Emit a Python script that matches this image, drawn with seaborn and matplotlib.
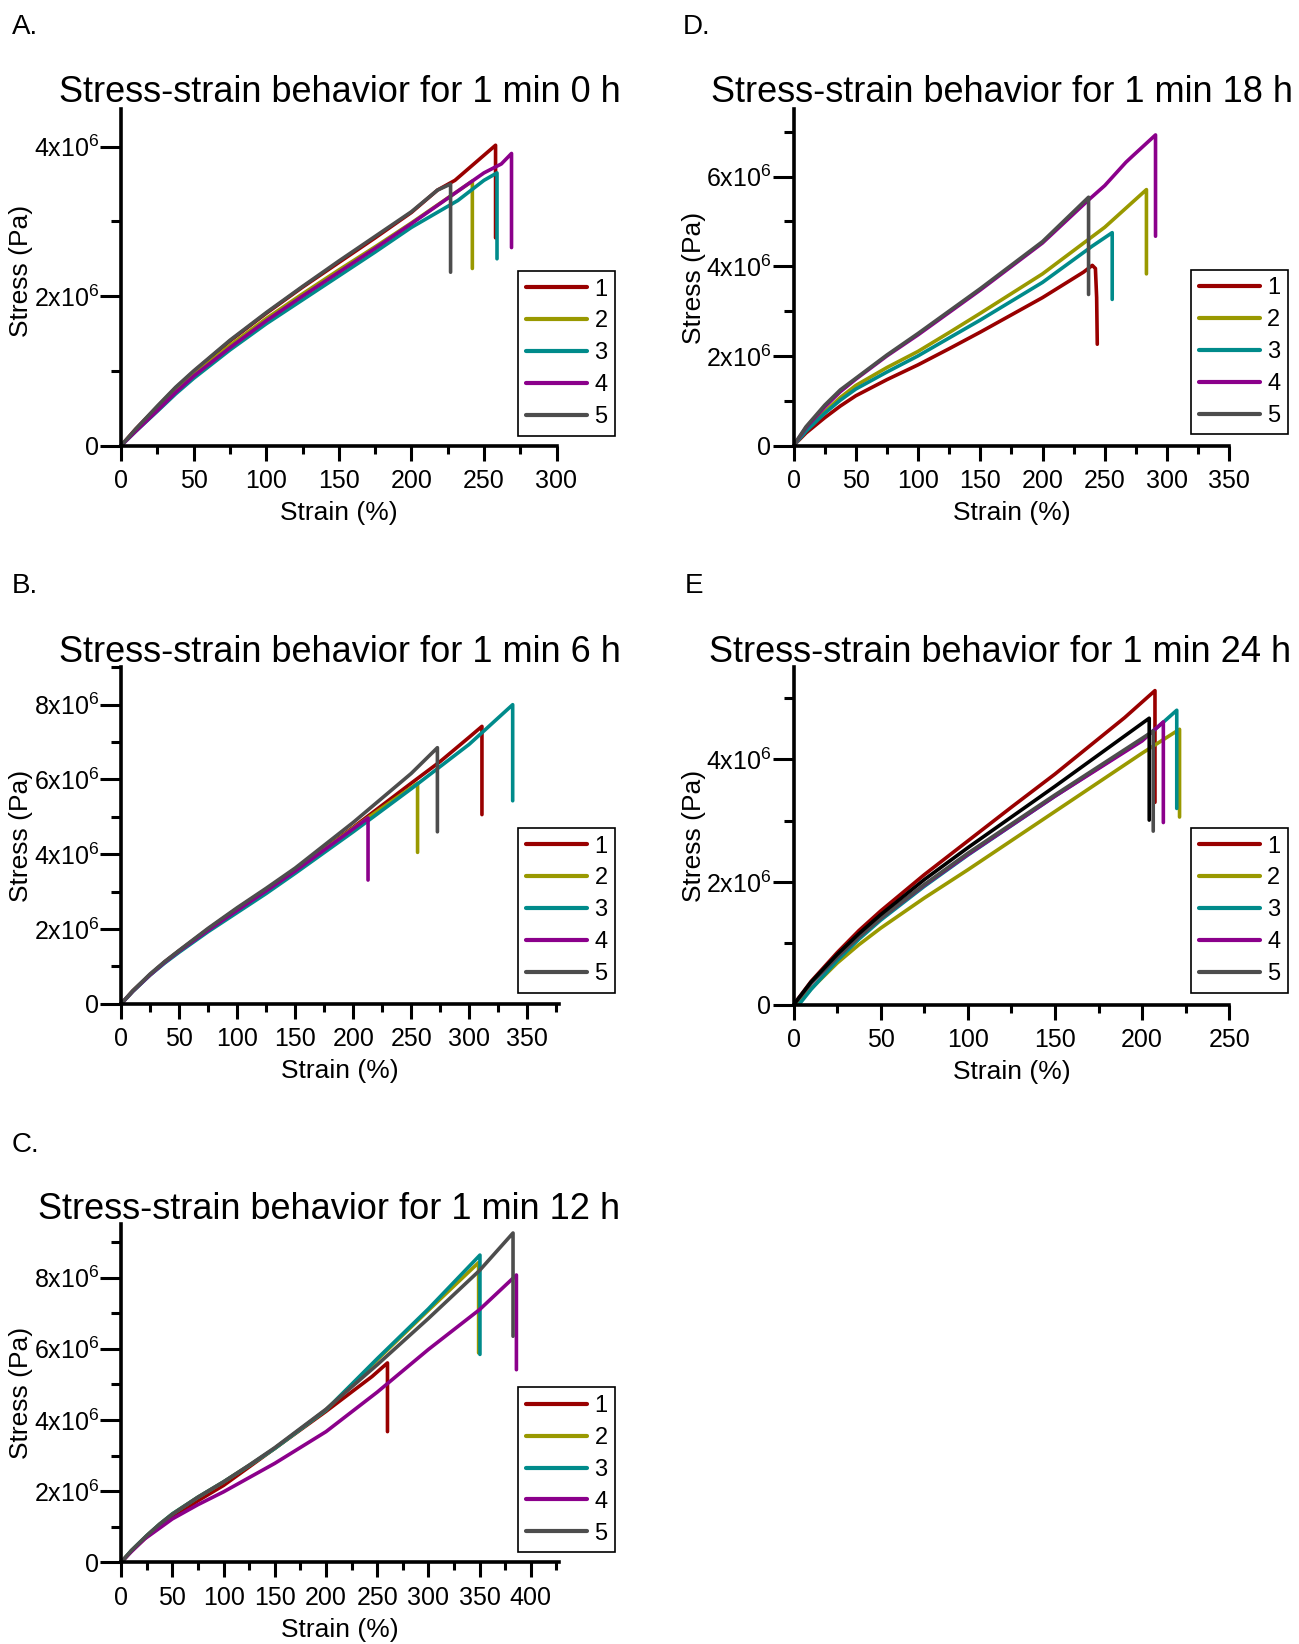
"""
Stress-strain curves for the 1 min samples at 0, 6, 12, 18 and 24 h.
Five panels (A-E), each with five specimens; the final point of each
specimen is the failure drop.
"""
import matplotlib
matplotlib.use("Agg")
import matplotlib.pyplot as plt
import pandas as pd
import seaborn as sns
from matplotlib.ticker import MultipleLocator

SAMPLES = ["1", "2", "3", "4", "5"]
COLORS = ["#990000", "#999900", "#008b8b", "#8b008b", "#4d4d4d"]

# strain in %, stress in 1e6 Pa (last point of each curve = drop after failure)
# A. 1 min 0 h
a_strain = [
    [0, 10, 25, 37.5, 50, 75, 100, 125, 150, 175, 200, 218, 230, 258, 258],
    [0, 10, 25, 37.5, 50, 75, 100, 125, 150, 175, 200, 242, 242],
    [0, 10, 25, 37.5, 50, 75, 100, 125, 150, 175, 200, 232, 250, 259, 259],
    [0, 10, 25, 37.5, 50, 75, 100, 125, 150, 175, 200, 250, 262, 269, 269],
    [0, 10, 25, 37.5, 50, 75, 100, 125, 150, 175, 200, 218, 227, 227],
]
a_stress = [
    [0, 0.22, 0.52, 0.77, 0.99, 1.40, 1.77, 2.12, 2.45, 2.78, 3.12, 3.42, 3.55, 4.02, 2.78],
    [0, 0.20, 0.49, 0.73, 0.95, 1.34, 1.70, 2.03, 2.35, 2.66, 2.98, 3.54, 2.37],
    [0, 0.19, 0.46, 0.69, 0.90, 1.28, 1.63, 1.95, 2.27, 2.59, 2.92, 3.28, 3.55, 3.65, 2.50],
    [0, 0.19, 0.47, 0.71, 0.93, 1.31, 1.67, 2.00, 2.32, 2.64, 2.97, 3.65, 3.77, 3.91, 2.65],
    [0, 0.22, 0.53, 0.78, 1.00, 1.41, 1.78, 2.13, 2.47, 2.80, 3.13, 3.42, 3.50, 2.32],
]

# B. 1 min 6 h
b_strain = [
    [0, 10, 25, 37.5, 50, 75, 100, 125, 150, 200, 250, 275, 300, 311, 311],
    [0, 10, 25, 37.5, 50, 75, 100, 125, 150, 200, 230, 255.5, 255.5],
    [0, 10, 25, 37.5, 50, 75, 100, 125, 150, 200, 250, 300, 337.5, 337.5],
    [0, 10, 25, 37.5, 50, 75, 100, 125, 150, 200, 212.8, 212.8],
    [0, 10, 25, 37.5, 50, 75, 100, 125, 150, 200, 250, 272.6, 272.6],
]
b_stress = [
    [0, 0.34, 0.78, 1.12, 1.42, 2.00, 2.55, 3.06, 3.58, 4.72, 5.90, 6.48, 7.13, 7.42, 5.06],
    [0, 0.34, 0.78, 1.11, 1.41, 1.99, 2.53, 3.04, 3.56, 4.70, 5.35, 5.90, 4.05],
    [0, 0.33, 0.77, 1.09, 1.38, 1.93, 2.44, 2.95, 3.49, 4.60, 5.75, 6.94, 8.00, 5.43],
    [0, 0.34, 0.78, 1.11, 1.41, 1.97, 2.50, 3.02, 3.55, 4.68, 4.97, 3.31],
    [0, 0.35, 0.80, 1.13, 1.43, 2.02, 2.57, 3.09, 3.63, 4.85, 6.16, 6.85, 4.60],
]

# C. 1 min 12 h
c_strain = [
    [0, 10, 25, 37.5, 50, 75, 100, 125, 150, 200, 245, 260, 260],
    [0, 10, 25, 37.5, 50, 75, 100, 125, 150, 200, 250, 300, 349, 349],
    [0, 10, 25, 37.5, 50, 75, 100, 125, 150, 200, 250, 300, 350.3, 350.3],
    [0, 10, 23, 37.5, 50, 75, 100, 150, 200, 250, 300, 350, 385.9, 385.9],
    [0, 10, 25, 37.5, 50, 75, 100, 125, 150, 200, 250, 300, 350, 382.6, 382.6],
]
c_stress = [
    [0, 0.32, 0.72, 1.01, 1.27, 1.73, 2.16, 2.68, 3.20, 4.24, 5.22, 5.60, 3.67],
    [0, 0.33, 0.75, 1.07, 1.36, 1.83, 2.26, 2.72, 3.20, 4.28, 5.69, 7.08, 8.42, 5.88],
    [0, 0.33, 0.75, 1.07, 1.36, 1.83, 2.26, 2.72, 3.20, 4.28, 5.72, 7.12, 8.63, 5.84],
    [0, 0.30, 0.66, 0.96, 1.22, 1.62, 1.98, 2.78, 3.67, 4.78, 5.98, 7.10, 8.07, 5.41],
    [0, 0.33, 0.75, 1.07, 1.35, 1.83, 2.26, 2.73, 3.22, 4.30, 5.55, 6.85, 8.20, 9.25, 6.35],
]

# D. 1 min 18 h
d_strain = [
    [0, 10, 25, 37.5, 50, 75, 100, 125, 150, 200, 233, 240, 242.5, 243.5, 244],
    [0, 10, 25, 37.5, 50, 75, 100, 125, 150, 200, 250, 283.5, 283.5],
    [0, 10, 25, 37.5, 50, 75, 100, 125, 150, 200, 240, 256, 256],
    [0, 10, 25, 37.5, 50, 75, 100, 125, 150, 200, 237, 250, 267, 272, 290.8, 290.8],
    [0, 10, 25, 37.5, 50, 75, 100, 125, 150, 200, 237, 237],
]
d_stress = [
    [0, 0.28, 0.62, 0.88, 1.11, 1.47, 1.80, 2.16, 2.53, 3.30, 3.87, 4.02, 3.95, 3.30, 2.26],
    [0, 0.34, 0.75, 1.07, 1.34, 1.74, 2.10, 2.52, 2.95, 3.83, 4.87, 5.71, 3.83],
    [0, 0.32, 0.72, 1.01, 1.26, 1.64, 2.00, 2.40, 2.80, 3.64, 4.45, 4.75, 3.26],
    [0, 0.40, 0.86, 1.20, 1.48, 2.00, 2.47, 2.97, 3.47, 4.52, 5.48, 5.80, 6.32, 6.45, 6.93, 4.67],
    [0, 0.42, 0.90, 1.24, 1.50, 2.02, 2.50, 3.00, 3.50, 4.55, 5.54, 3.37],
]

# E. 1 min 24 h (plus one extra black trace with no legend entry)
e_strain = [
    [0, 10, 25, 37.5, 50, 75, 100, 125, 150, 190, 207.4, 207.4],
    [2, 10, 25, 37.5, 50, 75, 100, 150, 200, 221.5, 221.5],
    [3, 10, 25, 37.5, 50, 75, 100, 150, 200, 210, 219.9, 219.9],
    [0, 10, 25, 37.5, 50, 75, 100, 150, 200, 212.2, 212.2],
    [0, 10, 25, 37.5, 50, 75, 100, 150, 206.4, 206.4],
]
e_stress = [
    [0, 0.38, 0.85, 1.21, 1.53, 2.12, 2.67, 3.22, 3.76, 4.68, 5.12, 3.30],
    [0, 0.26, 0.68, 0.98, 1.25, 1.74, 2.20, 3.15, 4.10, 4.49, 3.06],
    [0, 0.25, 0.72, 1.07, 1.38, 1.93, 2.44, 3.40, 4.32, 4.55, 4.80, 3.20],
    [0, 0.35, 0.78, 1.11, 1.41, 1.95, 2.45, 3.40, 4.30, 4.61, 2.97],
    [0, 0.35, 0.78, 1.11, 1.41, 1.96, 2.47, 3.42, 4.46, 2.83],
]
e_extra_strain = [0, 10, 25, 37.5, 50, 75, 100, 150, 204.1, 204.1]
e_extra_stress = [0, 0.37, 0.82, 1.16, 1.47, 2.04, 2.56, 3.56, 4.67, 3.01]


def to_frame(strains, stresses):
    rows = []
    for name, xs, ys in zip(SAMPLES, strains, stresses):
        for i, (x, y) in enumerate(zip(xs, ys)):
            rows.append({"sample": name, "order": i, "strain": x, "stress": y * 1e6})
    return pd.DataFrame(rows)


sns.set_style("ticks")
plt.rcParams["font.family"] = ["Liberation Sans", "DejaVu Sans"]
plt.rcParams["mathtext.default"] = "regular"
for key in ("text.color", "axes.labelcolor", "xtick.color", "ytick.color",
            "xtick.labelcolor", "ytick.labelcolor"):
    plt.rcParams[key] = "black"

W, H = 1299, 1644
fig = plt.figure(figsize=(W / 100, H / 100), dpi=100)

# letter, hours, data, xmax, ymax, ytick labels, axes rect (px), legend corner (px),
# title right edge / baseline (px), letter position (px), ylabel y
panels = [
    ("A.", "0", a_strain, a_stress, 300, 4.5e6, [0, 2, 4],
     (121.2, 109.4, 556.5, 445.5), (518.4, 435.8), 620.6, 102.5, (11.6, 34.4), 0.52),
    ("B.", "6", b_strain, b_stress, 377, 9.0e6, [0, 2, 4, 6, 8],
     (121.2, 667.3, 558.5, 1003.8), (518.4, 992.8), 620.6, 661.5, (11.6, 592.7), 0.50),
    ("C.", "12", c_strain, c_stress, 427, 9.5e6, [0, 2, 4, 6, 8],
     (121.2, 1224.1, 558.5, 1562.3), (518.4, 1552.2), 620.6, 1218.5, (11.6, 1151.7), 0.50),
    ("D.", "18", d_strain, d_stress, 350, 7.5e6, [0, 2, 4, 6],
     (793.6, 109.4, 1229.2, 445.5), (1191.2, 434.5), 1293.4, 102.5, (683, 34.4), 0.50),
    ("E", "24", e_strain, e_stress, 250, 5.5e6, [0, 2, 4],
     (793.6, 667.3, 1229.2, 1004.8), (1191.2, 992.8), 1291.3, 661.5, (685, 592.7), 0.50),
]

for (letter, hours, strains, stresses, xmax, ymax, yt, rect, leg_xy,
     title_x, title_y, letter_xy, ylab_y) in panels:
    x0, y0, x1, y1 = rect
    ax = fig.add_axes([x0 / W, 1 - y1 / H, (x1 - x0) / W, (y1 - y0) / H])
    df = to_frame(strains, stresses)
    sns.lineplot(data=df, x="strain", y="stress", hue="sample", palette=COLORS,
                 sort=False, estimator=None, linewidth=2.6, ax=ax)
    if letter == "E":
        extra = pd.DataFrame({"strain": e_extra_strain,
                              "stress": [v * 1e6 for v in e_extra_stress]})
        sns.lineplot(data=extra, x="strain", y="stress", color="black",
                     sort=False, estimator=None, linewidth=2.6, ax=ax, legend=False)

    ax.set_xlim(0, xmax)
    ax.set_ylim(0, ymax)
    sns.despine(ax=ax)
    for side in ("left", "bottom"):
        ax.spines[side].set_linewidth(2.6)
        ax.spines[side].set_color("black")

    ax.xaxis.set_major_locator(MultipleLocator(50))
    ax.xaxis.set_minor_locator(MultipleLocator(25))
    ax.set_yticks([v * 1e6 for v in yt])
    ax.set_yticklabels(["0"] + [f"{v}x10$^{{6}}$" for v in yt[1:]])
    ax.yaxis.set_minor_locator(MultipleLocator(1e6))
    ax.tick_params(axis="x", which="major", length=11, width=2.2, pad=6, labelsize=18)
    ax.tick_params(axis="x", which="minor", length=6, width=2.2)
    ax.tick_params(axis="y", which="major", length=15, width=2.2, pad=1, labelsize=18)
    ax.tick_params(axis="y", which="minor", length=7, width=2.2)

    ax.set_xlabel("Strain (%)", fontsize=19)
    ax.set_ylabel("Stress (Pa)", fontsize=19)
    ax.xaxis.set_label_coords(0.5, -0.165)
    ax.yaxis.set_label_coords(-0.202, ylab_y)

    old = ax.get_legend()
    handles = old.legend_handles
    labels = [t.get_text() for t in old.get_texts()]
    leg = ax.legend(handles, labels, loc="lower left",
                    bbox_to_anchor=(leg_xy[0] / W, 1 - leg_xy[1] / H),
                    bbox_transform=fig.transFigure, borderaxespad=0,
                    fontsize=17, handlelength=2.6, handletextpad=0.3,
                    labelspacing=0.42, borderpad=0.32, fancybox=False,
                    framealpha=1, edgecolor="black")
    leg.get_frame().set_linewidth(1.2)
    for h in leg.legend_handles:
        h.set_linewidth(3)

    fig.text(title_x / W, 1 - title_y / H,
             f"Stress-strain behavior for 1 min {hours} h",
             ha="right", va="baseline", fontsize=26)
    fig.text(letter_xy[0] / W, 1 - letter_xy[1] / H, letter,
             ha="left", va="baseline", fontsize=20)

fig.savefig("out.png", dpi=100)
